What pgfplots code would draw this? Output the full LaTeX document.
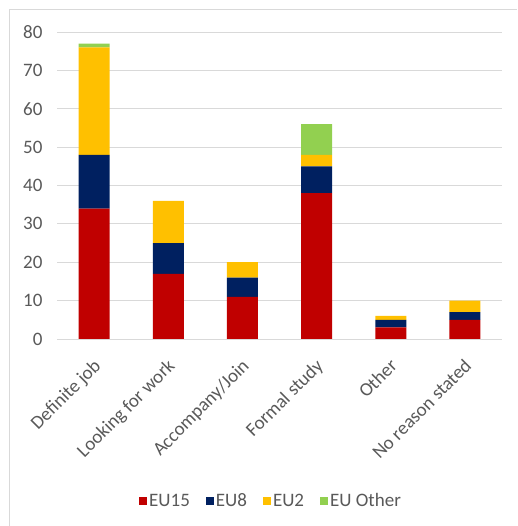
\documentclass[border=0pt]{standalone}
\usepackage{pgfplots}
\usepackage{pgfplotstable}
\usepackage{fontspec}
\setmainfont{Carlito}
\pgfplotsset{compat=1.18}
\definecolor{euXV}{HTML}{C00000}
\definecolor{euVIII}{HTML}{002060}
\definecolor{euII}{HTML}{FFC000}
\definecolor{euOther}{HTML}{92D050}
\definecolor{gridgray}{HTML}{D9D9D9}
\definecolor{txtgray}{HTML}{595959}
\pgfplotstableread{
x EU15 EU8 EU2 EUOther
0 34 14 28 1
1 17 8 11 0
2 11 5 4 0
3 38 7 3 8
4 3 2 1 0
5 5 2 3 0
}\data
\begin{document}
\begin{tikzpicture}
\useasboundingbox (0,0) rectangle (517pt,526pt);
\draw[gridgray, line width=0.8pt] (9.5pt,0) -- (9.5pt,516.5pt) -- (517pt,516.5pt);
\begin{axis}[
  at={(57pt,187pt)}, anchor=south west,
  scale only axis, width=445pt, height=307pt,
  ybar stacked, bar width=31pt,
  xmin=-0.5, xmax=5.5, ymin=0, ymax=80,
  ytick={0,10,...,80},
  xtick=data,
  xticklabels={Definite job,Looking for work,Accompany/Join,Formal study,Other,No reason stated},
  axis line style={draw=none},
  major tick length=0pt,
  ymajorgrids, grid style={gridgray, line width=0.9pt},
  /pgf/number format/assume math mode=true,
  tick label style={font=\fontsize{19}{21}\selectfont, text=txtgray},
  yticklabel style={xshift=-11pt},
  xticklabel style={rotate=45, anchor=north east, xshift=-11pt, yshift=-8.5pt},
  legend columns=-1,
  legend style={draw=none, at={(0.481,-0.527)}, anchor=center,
    font=\fontsize{19}{21}\selectfont, text=txtgray,
    /tikz/every even column/.append style={column sep=14pt}},
  legend image code/.code={\fill[#1,draw=none] (0pt,-4pt) rectangle (8pt,4pt);},
]
\addplot[fill=euXV, draw=none] table[x=x, y=EU15] {\data};
\addplot[fill=euVIII, draw=none] table[x=x, y=EU8] {\data};
\addplot[fill=euII, draw=none] table[x=x, y=EU2] {\data};
\addplot[fill=euOther, draw=none] table[x=x, y=EUOther] {\data};
\legend{EU15,EU8,EU2,EU Other}
\end{axis}
\end{tikzpicture}
\end{document}
